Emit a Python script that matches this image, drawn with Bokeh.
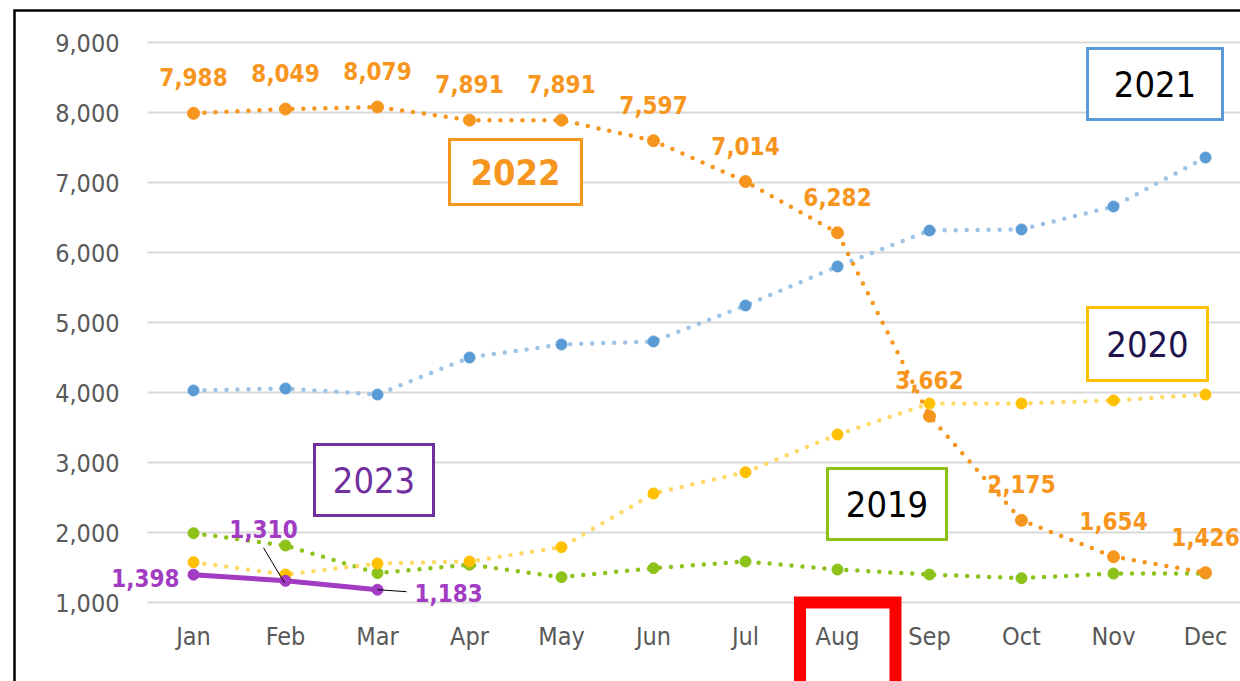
from bokeh.plotting import figure
from bokeh.models import Range1d, FixedTicker, NumeralTickFormatter, BoxAnnotation, Label, ColumnDataSource
from bokeh.core.properties import value
from bokeh.embed import file_html
from bokeh.resources import INLINE

months = ["Jan", "Feb", "Mar", "Apr", "May", "Jun", "Jul", "Aug", "Sep", "Oct", "Nov", "Dec"]
v2019 = [1990, 1814, 1419, 1540, 1362, 1490, 1586, 1471, 1400, 1347, 1414, 1414]
v2020 = [1576, 1400, 1557, 1586, 1790, 2557, 2861, 3400, 3843, 3843, 3886, 3971]
v2021 = [4029, 4057, 3971, 4500, 4686, 4729, 5243, 5800, 6314, 6329, 6657, 7357]
v2022 = [7988, 8049, 8079, 7891, 7891, 7597, 7014, 6282, 3662, 2175, 1654, 1426]
v2023 = [1398, 1310, 1183]
y_ticks = [1000, 2000, 3000, 4000, 5000, 6000, 7000, 8000, 9000]

NARROW = "DejaVu Sans Condensed"
ORANGE = "#F7961E"
BLUE_M = "#5B9BD5"
BLUE_L = "#9DC3E6"
YEL_M = "#FFC000"
YEL_L = "#FFD966"
GREEN = "#8CC21A"
PURPLE = "#A23CC2"
GRAY = "#595959"

W, H = 1240, 681
# pixel geometry helpers (page px -> data)
PXX = 92.0
PXY = 0.07
def xd(px):
    return -0.5 + (px - 147) / PXX
def yd(py):
    return 1000 + (602 - py) / PXY

x = list(range(len(months)))

# the plot frame covers the whole canvas; axes draw their labels inward
p = figure(width=W, height=H,
           x_range=Range1d(xd(0), xd(W)), y_range=Range1d(yd(H), yd(0)),
           output_backend="svg", toolbar_location=None,
           min_border_left=0, min_border_right=0, min_border_top=0, min_border_bottom=0)
p.outline_line_color = None
p.background_fill_color = "white"
p.border_fill_color = "white"

p.xaxis.ticker = FixedTicker(ticks=x)
p.xaxis.major_label_overrides = {i: m for i, m in enumerate(months)}
p.yaxis.ticker = FixedTicker(ticks=y_ticks)
p.yaxis.formatter = NumeralTickFormatter(format="0,0")
for ax in (p.xaxis, p.yaxis):
    ax.axis_line_color = None
    ax.major_tick_line_color = None
    ax.minor_tick_line_color = None
    ax.major_tick_out = 0
    ax.minor_tick_out = 0
    ax.major_label_text_font = NARROW
    ax.major_label_text_font_size = "25px"
    ax.major_label_text_color = GRAY
p.xaxis.major_label_standoff = -60
p.yaxis.major_label_standoff = -119
p.xgrid.visible = False
p.ygrid.grid_line_color = "#D9D9D9"
p.ygrid.grid_line_width = 2

# white mask so grid lines start right of the y labels
p.add_layout(BoxAnnotation(left=xd(-5), right=xd(147), top=yd(-5), bottom=yd(H + 5),
                           fill_color="white", fill_alpha=1.0, line_color=None,
                           level="underlay"))

def dotted(vals, line_color, marker_color, size, lw=4.5):
    xs = x[:len(vals)]
    p.line(xs, vals, line_color=line_color, line_width=lw, line_dash="0 11", line_cap="round")
    p.scatter(xs, vals, size=size, fill_color=marker_color, line_color=marker_color)

dotted(v2019, GREEN, GREEN, 11)
dotted(v2020, YEL_L, YEL_M, 11)
dotted(v2021, BLUE_L, BLUE_M, 11)
dotted(v2022, ORANGE, ORANGE, 12)

# 2023 solid
p.line(x[:3], v2023, line_color=PURPLE, line_width=5)
p.scatter(x[:3], v2023, size=11, fill_color=PURPLE, line_color=PURPLE)

# 2022 value labels
src22 = ColumnDataSource(dict(x=x, y=v2022, t=[f"{v:,}" for v in v2022]))
p.text("x", "y", text="t", source=src22, text_align="center", text_baseline="middle",
       y_offset=-36, text_font=value(NARROW), text_font_style="bold",
       text_font_size="24px", text_color=ORANGE)

# 2023 value labels
src23 = ColumnDataSource(dict(x=x[:3], y=v2023, t=[f"{v:,}" for v in v2023],
                              xo=[-14, -22, 37], yo=[3, -52, 3],
                              al=["right", "center", "left"]))
p.text("x", "y", text="t", source=src23, text_align="al", text_baseline="middle",
       x_offset="xo", y_offset="yo", text_font=value(NARROW), text_font_style="bold",
       text_font_size="24px", text_color=PURPLE)

# leader lines for 2023 labels
lead_x0 = [x[1] - 22 / PXX, x[2]]
lead_y0 = [v2023[1] + 33 / PXY, v2023[2]]
lead_x1 = [x[1] - 1 / PXX, x[2] + 29 / PXX]
lead_y1 = [v2023[1] - 2 / PXY, v2023[2] - 2 / PXY]
p.segment(lead_x0, lead_y0, lead_x1, lead_y1, line_color="black", line_width=1)

# legend boxes
boxes = [
    ("2021", 1087, 1222, 48, 119, BLUE_M, "black", "normal"),
    ("2022", 449, 581, 139, 204, ORANGE, ORANGE, "bold"),
    ("2023", 314, 433, 444, 515, "#7030A0", "#7030A0", "normal"),
    ("2019", 827, 946, 468, 539, GREEN, "black", "normal"),
    ("2020", 1087, 1207, 307, 380, YEL_M, "#20124D", "normal"),
]
for txt, l, r, t, b, lc, tc, fs in boxes:
    p.add_layout(BoxAnnotation(left=xd(l), right=xd(r), top=yd(t), bottom=yd(b),
                               fill_color="white", fill_alpha=1.0,
                               line_color=lc, line_width=3, line_alpha=1.0,
                               line_join="miter"))
    p.add_layout(Label(x=xd((l + r) / 2), y=yd((t + b) / 2), text=txt,
                       text_align="center", text_baseline="middle",
                       text_font=NARROW, text_font_size="36px",
                       text_font_style=fs, text_color=tc))

# red highlight box around Aug
p.add_layout(BoxAnnotation(left=xd(799.5), right=xd(895), top=yd(602), bottom=yd(H + 40),
                           fill_alpha=0, line_color="#FF0000", line_width=12, line_alpha=1.0,
                           line_join="miter"))
# black outer frame
p.add_layout(BoxAnnotation(left=xd(14), right=xd(W + 40), top=yd(10), bottom=yd(H + 40),
                           fill_alpha=0, line_color="black", line_width=2.5, line_alpha=1.0,
                           line_join="miter"))

open("out.html", "w").write(file_html(p, INLINE))
